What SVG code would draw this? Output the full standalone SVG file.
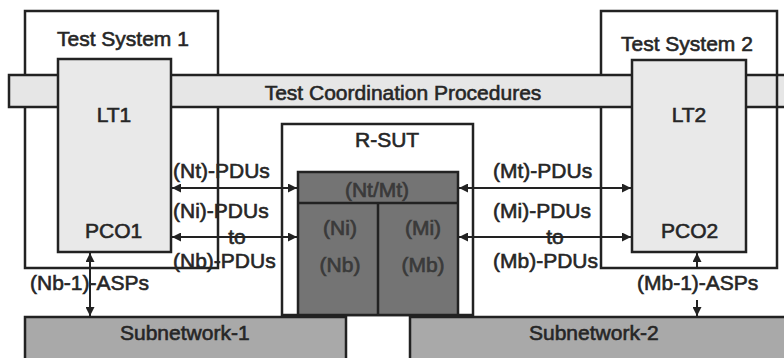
<svg xmlns="http://www.w3.org/2000/svg" width="784" height="358" viewBox="0 0 784 358">
<defs>
<style>
.box{fill:#ffffff;stroke:#222;stroke-width:2.5}
.lt{fill:#e9e9e9;stroke:#222;stroke-width:2.5}
.bar{fill:#e6e6e6;stroke:#222;stroke-width:2.5}
.core{fill:#747474;stroke:#222;stroke-width:2.5}
.sub{fill:#a9a9a9;stroke:#222;stroke-width:2.5}
.ln{fill:none;stroke:#222;stroke-width:2.5}
.con{fill:none;stroke:#222;stroke-width:2}
text{font-family:"Liberation Sans",Arial,Helvetica,sans-serif;font-size:21px;fill:#262626;stroke:#262626;stroke-width:0.6}
.c{text-anchor:middle}
text.dk{fill:#3a3a3a;stroke:#3a3a3a;stroke-width:0.7}
</style>
<marker id="ah" viewBox="0 0 10 10" refX="10" refY="5" markerWidth="9" markerHeight="9" markerUnits="userSpaceOnUse" orient="auto-start-reverse">
<path d="M0,0 L10,5 L0,10 z" fill="#222"/>
</marker>
</defs>

<g id="test-system-1">
<rect class="box" x="25" y="11" width="193" height="257"/>
<text x="57" y="46">Test System 1</text>
</g>
<g id="test-system-2">
<rect class="box" x="601" y="11" width="176" height="257"/>
<text x="621" y="51">Test System 2</text>
</g>

<g id="coordination">
<rect class="bar" x="9" y="75" width="790" height="32"/>
<line class="ln" x1="777" y1="75" x2="777" y2="107"/>
<text class="c" x="403" y="100">Test Coordination Procedures</text>
</g>

<g id="lt1">
<rect class="lt" x="58" y="59" width="113" height="193"/>
<text class="c" x="114" y="122">LT1</text>
<text x="85" y="238">PCO1</text>
</g>
<g id="lt2">
<rect class="lt" x="632" y="60" width="114" height="192"/>
<text class="c" x="689" y="122">LT2</text>
<text x="661" y="238">PCO2</text>
</g>

<g id="r-sut">
<rect class="box" x="282" y="124" width="191" height="191"/>
<text x="355" y="147">R-SUT</text>
</g>

<g id="sut-core">
<rect class="core" x="298" y="172" width="160" height="143"/>
<line class="ln" x1="298" y1="203" x2="458" y2="203"/>
<line class="ln" x1="378" y1="203" x2="378" y2="315"/>
<text class="c dk" x="377" y="197">(Nt/Mt)</text>
<text class="c dk" x="340" y="235">(Ni)</text>
<text class="c dk" x="340" y="272">(Nb)</text>
<text class="c dk" x="423" y="235">(Mi)</text>
<text class="c dk" x="423" y="272">(Mb)</text>
</g>

<g id="subnetwork-1">
<rect class="sub" x="25" y="317" width="321" height="45"/>
<text x="120" y="340">Subnetwork-1</text>
</g>
<g id="subnetwork-2">
<rect class="sub" x="410" y="317" width="380" height="45"/>
<text x="529" y="340">Subnetwork-2</text>
</g>

<g id="connectors">
<line class="con" x1="172" y1="188" x2="297" y2="188" marker-start="url(#ah)" marker-end="url(#ah)"/>
<line class="con" x1="172" y1="237" x2="297" y2="237" marker-start="url(#ah)" marker-end="url(#ah)"/>
<line class="con" x1="459" y1="188" x2="631" y2="188" marker-start="url(#ah)" marker-end="url(#ah)"/>
<line class="con" x1="459" y1="237" x2="631" y2="237" marker-start="url(#ah)" marker-end="url(#ah)"/>
<line class="con" x1="90" y1="253" x2="90" y2="316" marker-start="url(#ah)" marker-end="url(#ah)"/>
<line class="con" x1="697" y1="268" x2="697" y2="253" marker-end="url(#ah)"/>
<line class="con" x1="697" y1="300" x2="697" y2="316" marker-end="url(#ah)"/>
</g>

<g id="labels">
<text x="173" y="178">(Nt)-PDUs</text>
<text x="173" y="218">(Ni)-PDUs</text>
<text class="c" x="237" y="244">to</text>
<text x="173" y="268">(Nb)-PDUs</text>
<text x="493" y="178">(Mt)-PDUs</text>
<text x="493" y="218">(Mi)-PDUs</text>
<text class="c" x="555" y="244">to</text>
<text x="493" y="268">(Mb)-PDUs</text>
<text x="30" y="290">(Nb-1)-ASPs</text>
<text x="637" y="290">(Mb-1)-ASPs</text>
</g>
</svg>
